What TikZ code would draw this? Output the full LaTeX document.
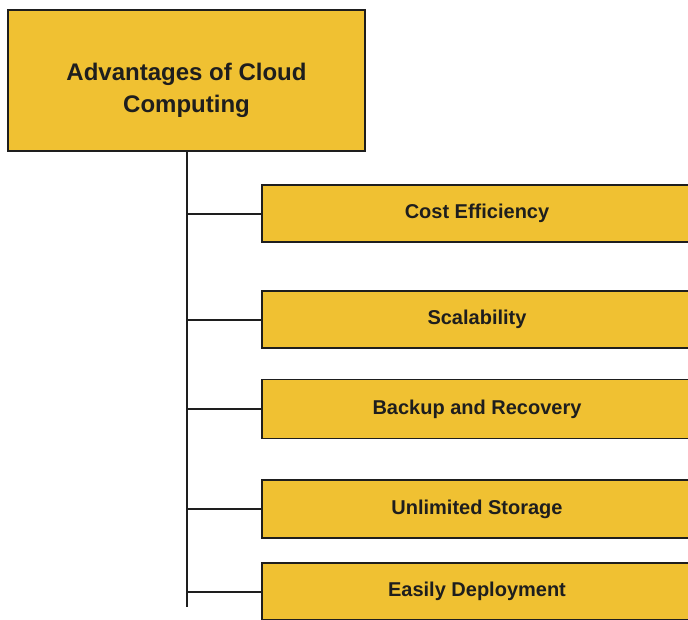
\documentclass[tikz,border=0pt]{standalone}
\usepackage{fontspec}
\setmainfont{Liberation Sans}

\definecolor{cloudgold}{RGB}{240,193,50}
\definecolor{inkdark}{RGB}{30,30,30}

\begin{document}
\begin{tikzpicture}[x = 1pt, y = -1pt,
	box/.style = {draw = inkdark, line width = 1.6pt, fill = cloudgold, text = inkdark, inner sep = 0pt},
	item/.style = {box, minimum width = 430pt, minimum height = 57pt, font = \bfseries\fontsize{20}{24}\selectfont},
	branch/.style = {draw = inkdark, line width = 2pt}]

	% Picture frame
	
	\useasboundingbox (0, 0) rectangle (688, 619);
	\clip (0, 0) rectangle (688, 619);
	
	% Title box
	
	\node [box, minimum width = 357pt, minimum height = 141pt, align = center, text height = 69pt,
		font = \bfseries\fontsize{24}{32}\selectfont] (root) at (186.5, 80.5) {Advantages of Cloud\\Computing};
	
	% The advantages
	
	\node [item] (cost) at (477, 213.5) {Cost Efficiency};
	\node [item] (scale) at (477, 319.5) {Scalability};
	\node [item, minimum height = 59pt] (backup) at (477, 409) {Backup and Recovery};
	\node [item, minimum height = 58pt] (storage) at (477, 509) {Unlimited Storage};
	\node [item] (deploy) at (477, 591.5) {Easily Deployment};
	
	% Trunk and branches
	
	\coordinate (trunkend) at (186.5, 607);
	
	\draw [branch] (root.south) -- (trunkend);
	\draw [branch] (root.south |- cost.west) -- (cost.west);
	\draw [branch] (root.south |- scale.west) -- (scale.west);
	\draw [branch] (root.south |- backup.west) -- (backup.west);
	\draw [branch] (root.south |- storage.west) -- (storage.west);
	\draw [branch] (root.south |- deploy.west) -- (deploy.west);

\end{tikzpicture}
\end{document}
